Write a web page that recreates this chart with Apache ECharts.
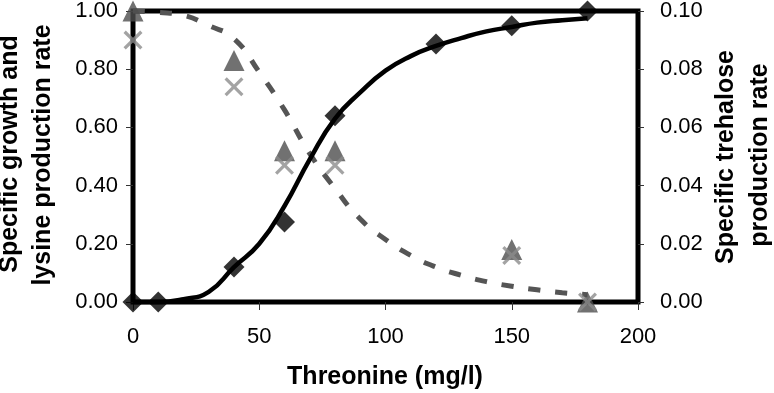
<!DOCTYPE html>
<html>
<head>
<meta charset="utf-8">
<script src="https://cdn.jsdelivr.net/npm/echarts@6/dist/echarts.min.js"></script>
<style>
  html, body { margin: 0; padding: 0; background: #fff; }
  #chart { width: 774px; height: 393px; }
</style>
</head>
<body>
<div id="chart"></div>
<script>
// fitted curves
var fitX = [0, 10, 20, 30, 40, 50, 60, 70, 80, 90, 100, 110, 120, 130, 140, 150, 160, 170, 180];
var growthFit = [0, 0, 0.01, 0.035, 0.12, 0.20, 0.33, 0.49, 0.63, 0.72, 0.795, 0.845, 0.88, 0.907, 0.93, 0.945, 0.96, 0.968, 0.975];
var trehaloseFit = [1.0, 0.995, 0.985, 0.95, 0.905, 0.79, 0.66, 0.51, 0.39, 0.285, 0.215, 0.16, 0.12, 0.092, 0.07, 0.054, 0.042, 0.032, 0.025];

// measured points
var growthX = [0, 10, 40, 60, 80, 120, 150, 180];
var growthObs = [0, 0, 0.12, 0.275, 0.64, 0.887, 0.949, 1.0];
var otherX = [0, 40, 60, 80, 150, 180];
var lysineObs = [1.0, 0.83, 0.52, 0.52, 0.18, 0.0];
var trehaloseObs = [0.90, 0.74, 0.47, 0.47, 0.16, 0.0];

var xTicks = [0, 50, 100, 150, 200];

function pairs(xs, ys) {
    var out = [];
    for (var i = 0; i < xs.length; i++) {
        out.push([xs[i], ys[i]]);
    }
    return out;
}

var FONT = "'Liberation Sans', Arial, sans-serif";
var crossPath = 'path://M0,1.2L1.2,0L5,3.8L8.8,0L10,1.2L6.2,5L10,8.8L8.8,10L5,6.2L1.2,10L0,8.8L3.8,5Z';

var chart = echarts.init(document.getElementById('chart'));
chart.setOption({
    animation: false,
    grid: {
        left: 133, right: 136, top: 10, bottom: 91,
        show: true,
        borderColor: '#000',
        borderWidth: 5,
        backgroundColor: 'transparent'
    },
    xAxis: {
        type: 'value',
        min: xTicks[0],
        max: xTicks[xTicks.length - 1],
        interval: 50,
        axisLine: { show: false },
        axisTick: { show: true, length: 8, lineStyle: { color: '#333', width: 1 } },
        axisLabel: { margin: 24, fontSize: 22, color: '#000', fontFamily: FONT },
        splitLine: { show: false }
    },
    yAxis: [{
        type: 'value',
        min: 0, max: 1, interval: 0.2,
        axisLine: { show: false },
        axisTick: { show: true, length: 7, lineStyle: { color: '#333', width: 1 } },
        axisLabel: {
            margin: 15, fontSize: 22, color: '#000', fontFamily: FONT,
            formatter: function (v) { return v.toFixed(2); }
        },
        splitLine: { show: false }
    }, {
        type: 'value',
        position: 'right',
        min: 0, max: 0.1, interval: 0.02,
        axisLine: { show: false },
        axisTick: { show: true, length: 6, lineStyle: { color: '#333', width: 1 } },
        axisLabel: {
            margin: 22, fontSize: 22, color: '#000', fontFamily: FONT,
            formatter: function (v) { return v.toFixed(2); }
        },
        splitLine: { show: false }
    }],
    graphic: [
        { type: 'text', x: 10, y: 154, rotation: Math.PI / 2,
          style: { text: 'Specific growth and', font: 'bold 25px ' + FONT, fill: '#000', align: 'center', verticalAlign: 'middle' } },
        { type: 'text', x: 43, y: 155, rotation: Math.PI / 2,
          style: { text: 'lysine production rate', font: 'bold 25px ' + FONT, fill: '#000', align: 'center', verticalAlign: 'middle' } },
        { type: 'text', x: 726, y: 157, rotation: Math.PI / 2,
          style: { text: 'Specific trehalose', font: 'bold 25px ' + FONT, fill: '#000', align: 'center', verticalAlign: 'middle' } },
        { type: 'text', x: 760, y: 155, rotation: Math.PI / 2,
          style: { text: 'production rate', font: 'bold 25px ' + FONT, fill: '#000', align: 'center', verticalAlign: 'middle' } },
        { type: 'text', x: 385, y: 377,
          style: { text: 'Threonine (mg/l)', font: 'bold 25px ' + FONT, fill: '#000', align: 'center', verticalAlign: 'middle' } }
    ],
    series: [{
        name: 'trehalose fit',
        type: 'line',
        data: pairs(fitX, trehaloseFit),
        smooth: true,
        showSymbol: false,
        clip: false,
        lineStyle: { color: '#555', width: 5, type: [12, 15] },
        z: 2
    }, {
        name: 'growth fit',
        type: 'line',
        data: pairs(fitX, growthFit),
        smooth: true,
        showSymbol: false,
        clip: false,
        lineStyle: { color: '#000', width: 4.5 },
        z: 3
    }, {
        name: 'lysine',
        type: 'scatter',
        data: pairs(otherX, lysineObs),
        symbol: 'triangle',
        symbolSize: 21,
        clip: false,
        itemStyle: { color: '#4d4d4d' },
        z: 4
    }, {
        name: 'trehalose',
        type: 'scatter',
        data: pairs(otherX, trehaloseObs),
        symbol: crossPath,
        symbolSize: 19,
        clip: false,
        itemStyle: { color: '#8c8c8c' },
        z: 5
    }, {
        name: 'growth',
        type: 'scatter',
        data: pairs(growthX, growthObs),
        symbol: 'diamond',
        symbolSize: 21,
        clip: false,
        itemStyle: { color: '#000' },
        z: 6
    }]
});
</script>
</body>
</html>
